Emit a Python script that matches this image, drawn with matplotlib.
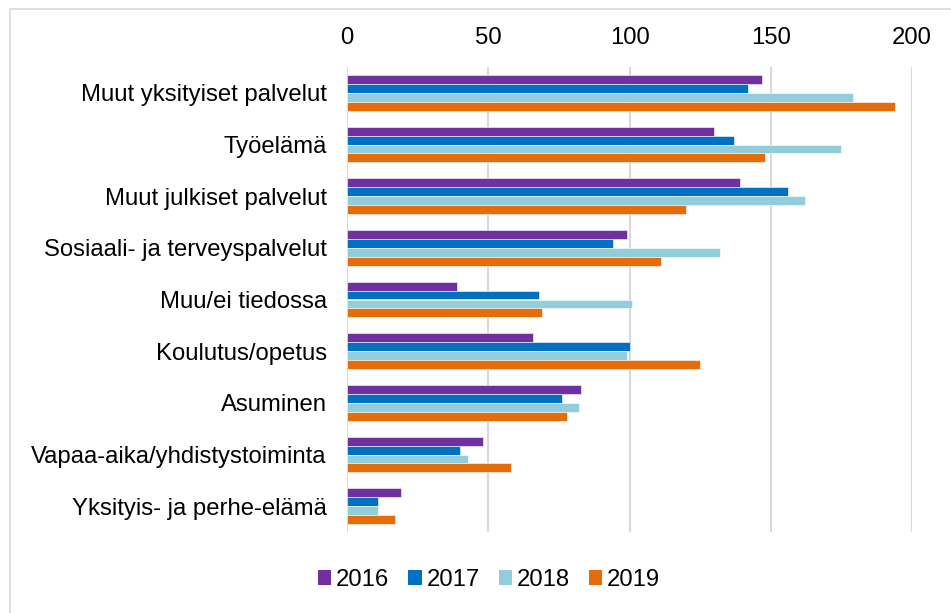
import matplotlib.pyplot as plt
from matplotlib.patches import Patch, Rectangle
import numpy as np

plt.rcParams['font.family'] = ['Liberation Sans', 'DejaVu Sans']

# categories, top to bottom
categories = ['Muut yksityiset palvelut', 'Työelämä', 'Muut julkiset palvelut',
              'Sosiaali- ja terveyspalvelut', 'Muu/ei tiedossa', 'Koulutus/opetus',
              'Asuminen', 'Vapaa-aika/yhdistystoiminta', 'Yksityis- ja perhe-elämä']
years = ['2016', '2017', '2018', '2019']
v2016 = [147, 130, 139, 99, 39, 66, 83, 48, 19]
v2017 = [142, 137, 156, 94, 68, 100, 76, 40, 11]
v2018 = [179, 175, 162, 132, 101, 99, 82, 43, 11]
v2019 = [194, 148, 120, 111, 69, 125, 78, 58, 17]
colors = ['#7030A0', '#0070C0', '#92CDDC', '#E46C0A']
xticks = [0, 50, 100, 150, 200]

fs = 17.2

fig = plt.figure(figsize=(9.51, 6.13), dpi=100)
ax = fig.add_axes([347/951, 1-532/613, (912-347)/951, (532-67)/613])

# outer frame (only left and top edges are visible in the reference)
fig.patches.append(Rectangle((10/951, -0.05), 1.2, 1.05 - 9/613,
                             transform=fig.transFigure, fill=False,
                             edgecolor='#D9D9D9', linewidth=1.2))

y = np.arange(len(categories))
h = 0.1725
series = [v2016, v2017, v2018, v2019]
for i, vals in enumerate(series):
    ax.barh(y - 1.5*h + i*h, vals, height=h, color=colors[i],
            edgecolor='white', linewidth=0.4, zorder=3)

ax.set_xlim(0, 200)
ax.set_ylim(len(categories) - 0.5, -0.5)
ax.set_yticks(y)
ax.set_yticklabels(categories, fontsize=fs)
ax.set_xticks(xticks)
ax.set_xticklabels([str(t) for t in xticks], fontsize=fs)
ax.xaxis.tick_top()
ax.tick_params(axis='both', length=0)
ax.tick_params(axis='y', pad=14.5)
ax.tick_params(axis='x', pad=13)
ax.grid(axis='x', color='#D9D9D9', linewidth=1.5, zorder=0)
for s in ax.spines.values():
    s.set_visible(False)

handles = [Patch(facecolor=c, edgecolor='none') for c in colors]
fig.legend(handles, years, loc='center', bbox_to_anchor=(489/951, 1-580/613),
           ncol=4, frameon=False, fontsize=fs, handlelength=0.55,
           handleheight=0.55, handletextpad=0.2, columnspacing=0.8)

fig.savefig('out.png', dpi=100)
